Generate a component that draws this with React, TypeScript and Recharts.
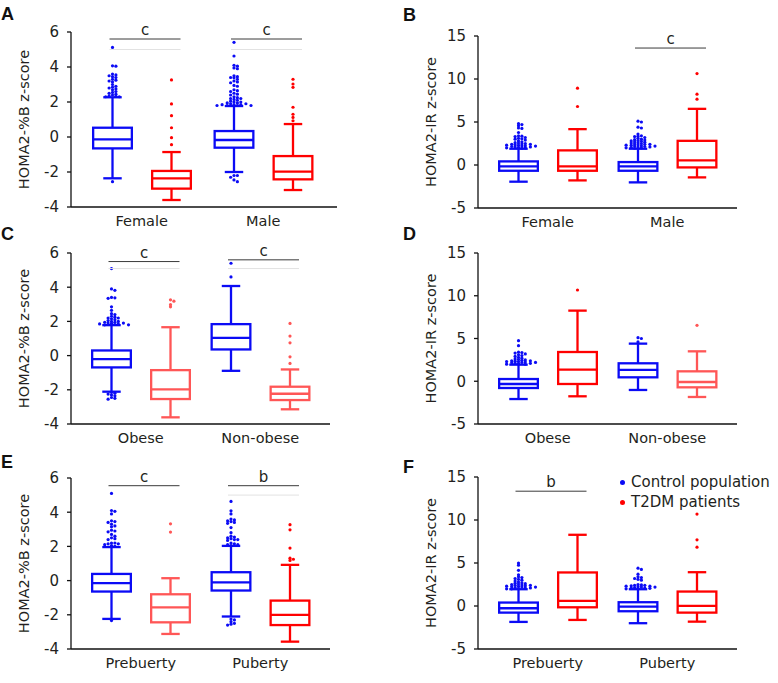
import React from 'react';
import { ComposedChart, Bar, XAxis, YAxis, Legend } from 'recharts';

const FONT = '"DejaVu Sans", Verdana, sans-serif';
const BLUE = '#0b0bf5';
const RED = '#ff0000';
const LIGHT_RED = '#ff5656';
const INK = '#231f20';

// categories
const sexGroups = ['Female', 'Male'];
const obesityGroups = ['Obese', 'Non-obese'];
const pubertyGroups = ['Prebuerty', 'Puberty'];

// box stats per group: [min, q1, median, q3, max]
// A - HOMA2-%B by sex
const aCtrl = [[-2.36, -0.65, -0.13, 0.53, 2.27], [-2.0, -0.61, -0.17, 0.34, 1.77]];
const aT2dm = [[-3.6, -2.95, -2.36, -1.94, -0.86], [-3.03, -2.42, -1.98, -1.09, 0.74]];
const aCtrlOut = [
  [5.12, 4.07, 4.05, 3.6, 3.55, 3.5, 3.45, 3.4, 3.3, 3.25, 3.2, 3.15, 3.0, 2.9, 2.85, 2.8, 2.75, 2.7, 2.6, 2.55, 2.5, 2.45, 2.4, 2.35, 2.32, 2.3, 2.3, -2.55],
  [5.41, 4.63, 4.1, 4.05, 3.95, 3.9, 3.5, 3.45, 3.4, 3.38, 3.3, 3.2, 3.15, 3.1, 2.95, 2.9, 2.7, 2.65, 2.6, 2.5, 2.45, 2.4, 2.3, 2.25, 2.2, 2.2, 2.15, 2.1, 2.05, 2.0, 2.0, 1.95, 1.95, 1.9, 1.9, 1.85, 1.85, 1.85, 1.8, 1.8, 1.8, 1.8, -2.2, -2.2, -2.3, -2.45, -2.55],
];
const aT2dmOut = [[3.26, 1.89, 1.22, 0.53, -0.04, -0.44], [3.3, 3.03, 2.84, 1.7, 1.3, 1.12, 0.93]];
const aSig = [{ label: 'c', y: 5.6, faint: 5.0 }, { label: 'c', y: 5.6, faint: 5.0 }];

// B - HOMA2-IR by sex
const bCtrl = [[-1.94, -0.67, -0.16, 0.42, 1.89], [-2.02, -0.67, -0.16, 0.34, 1.89]];
const bT2dm = [[-1.79, -0.67, -0.16, 1.7, 4.17], [-1.44, -0.28, 0.53, 2.81, 6.53]];
const bCtrlOut = [
  [4.8, 4.7, 4.55, 4.3, 4.25, 3.78, 3.4, 3.35, 3.3, 3.2, 3.1, 3.05, 3.0, 2.9, 2.8, 2.7, 2.6, 2.55, 2.5, 2.45, 2.4, 2.4, 2.35, 2.3, 2.3, 2.25, 2.2, 2.2, 2.15, 2.1, 2.1, 2.05, 2.0, 2.0, 1.95],
  [5.1, 5.0, 4.4, 4.3, 3.6, 3.4, 3.35, 3.3, 3.2, 3.1, 3.0, 2.95, 2.9, 2.85, 2.8, 2.75, 2.7, 2.65, 2.6, 2.55, 2.5, 2.45, 2.4, 2.4, 2.35, 2.3, 2.3, 2.25, 2.2, 2.2, 2.15, 2.1, 2.1, 2.05, 2.0, 2.0, 1.95],
];
const bT2dmOut = [[8.93, 6.8], [10.63, 8.23, 7.65]];
const bSig = [null, { label: 'c', y: 13.6 }];

// C - HOMA2-%B by obesity
const cCtrl = [[-2.11, -0.69, -0.21, 0.3, 1.78], [-0.89, 0.36, 1.04, 1.84, 4.07]];
const cT2dm = [[-3.61, -2.54, -1.98, -0.85, 1.66], [-3.14, -2.6, -2.23, -1.82, -0.81]];
const cCtrlOut = [
  [5.09, 3.9, 3.82, 3.4, 3.38, 3.35, 2.85, 2.65, 2.45, 2.4, 2.3, 2.25, 2.2, 2.2, 2.15, 2.1, 2.05, 2.0, 2.0, 1.95, 1.95, 1.9, 1.9, 1.88, 1.85, 1.85, 1.82, 1.8, 1.8, -2.15, -2.2, -2.25, -2.3, -2.35, -2.45, -2.5, -2.55],
  [5.4, 4.6],
];
const cT2dmOut = [[3.26, 3.18, 2.98, 2.85], [1.88, 1.14, 0.75, -0.07, -0.46]];
const cSig = [{ label: 'c', y: 5.5, faint: 5.09 }, { label: 'c', y: 5.6, faint: 5.09 }];

// D - HOMA2-IR by obesity
const dCtrl = [[-2.08, -0.79, -0.32, 0.26, 1.94], [-1.02, 0.46, 1.32, 2.1, 4.4]];
const dT2dm = [[-1.76, -0.32, 1.36, 3.42, 8.26], [-1.84, -0.71, -0.09, 1.16, 3.5]];
const dCtrlOut = [
  [4.75, 4.16, 3.4, 3.35, 3.3, 3.2, 3.1, 3.0, 2.9, 2.8, 2.7, 2.6, 2.55, 2.5, 2.45, 2.4, 2.4, 2.35, 2.3, 2.3, 2.25, 2.2, 2.2, 2.15, 2.1, 2.1, 2.05, 2.0, 2.0],
  [5.1, 5.0, 4.6],
];
const dT2dmOut = [[10.67], [6.54]];
const dSig = [null, null];

// E - HOMA2-%B by puberty
const eCtrl = [[-2.24, -0.64, -0.15, 0.39, 1.96], [-2.1, -0.58, -0.1, 0.49, 2.03]];
const eT2dm = [[-3.12, -2.44, -1.56, -0.8, 0.14], [-3.57, -2.6, -2.0, -1.17, 0.92]];
const eCtrlOut = [
  [5.1, 4.1, 4.05, 3.9, 3.5, 3.45, 3.4, 3.3, 3.2, 3.15, 2.95, 2.9, 2.85, 2.7, 2.6, 2.5, 2.45, 2.4, 2.2, 2.2, 2.15, 2.15, 2.1, 2.05, 2.0, -2.34],
  [4.63, 4.08, 3.9, 3.6, 3.55, 3.5, 3.45, 3.4, 3.35, 3.1, 2.8, 2.6, 2.55, 2.5, 2.45, 2.4, 2.4, 2.35, 2.2, 2.15, 2.1, 2.1, 2.05, -2.25, -2.3, -2.4, -2.5, -2.55, -2.6],
];
const eT2dmOut = [[3.32, 2.84], [3.27, 2.97, 1.9, 1.31, 1.25, 1.18]];
const eSig = [{ label: 'c', y: 5.55 }, { label: 'b', y: 5.55, faint: 5.0 }];

// F - HOMA2-IR by puberty
const fCtrl = [[-1.85, -0.77, -0.26, 0.4, 1.95], [-2.0, -0.61, -0.07, 0.44, 1.95]];
const fT2dm = [[-1.62, -0.15, 0.59, 3.9, 8.28], [-1.82, -0.77, 0.01, 1.68, 3.93]];
const fCtrlOut = [
  [5.0, 4.75, 4.15, 3.62, 3.4, 3.3, 3.2, 3.1, 3.0, 2.9, 2.8, 2.7, 2.65, 2.6, 2.55, 2.5, 2.45, 2.4, 2.4, 2.35, 2.3, 2.3, 2.25, 2.2, 2.2, 2.15, 2.1, 2.1, 2.05, 2.0, 2.0],
  [4.4, 4.25, 3.7, 3.4, 3.3, 3.2, 3.1, 3.0, 2.5, 2.45, 2.4, 2.4, 2.35, 2.3, 2.3, 2.25, 2.2, 2.2, 2.15, 2.1, 2.1, 2.05, 2.0, 2.0],
];
const fT2dmOut = [[], [10.69, 7.7, 6.84]];
const fSig = [{ label: 'b', y: 13.35 }, null];

const pctTicks = [-4, -2, 0, 2, 4, 6];
const irTicks = [-5, 0, 5, 10, 15];

const seriesNames = ['Control population', 'T2DM patients'];

const BAR = 41;
const GAP = 18;

const panels = [
  { id: 'A', left: 0, top: 0, w: 390, h: 240, plotTop: 32, plotBottom: 207, axisX: 71, axisRight: 337, padR: 13, letterX: 1, letterY: 5,
    groups: sexGroups, ctrl: aCtrl, t2dm: aT2dm, ctrlOut: aCtrlOut, t2dmOut: aT2dmOut, sig: aSig, ticks: pctTicks, title: 'HOMA2-%B z-score', light: [] },
  { id: 'B', left: 390, top: 0, w: 388, h: 240, plotTop: 36, plotBottom: 208, axisX: 88, axisRight: 347, padR: 10, letterX: 13, letterY: 6,
    groups: sexGroups, ctrl: bCtrl, t2dm: bT2dm, ctrlOut: bCtrlOut, t2dmOut: bT2dmOut, sig: bSig, ticks: irTicks, title: 'HOMA2-IR z-score', light: [] },
  { id: 'C', left: 0, top: 225, w: 390, h: 240, plotTop: 28, plotBottom: 199, axisX: 71, axisRight: 330, padR: 10, letterX: 1, letterY: 0,
    groups: obesityGroups, ctrl: cCtrl, t2dm: cT2dm, ctrlOut: cCtrlOut, t2dmOut: cT2dmOut, sig: cSig, ticks: pctTicks, title: 'HOMA2-%B z-score', light: [0, 1] },
  { id: 'D', left: 390, top: 225, w: 388, h: 240, plotTop: 28, plotBottom: 199, axisX: 88, axisRight: 347, padR: 10, letterX: 13, letterY: 0,
    groups: obesityGroups, ctrl: dCtrl, t2dm: dT2dm, ctrlOut: dCtrlOut, t2dmOut: dT2dmOut, sig: dSig, ticks: irTicks, title: 'HOMA2-IR z-score', light: [1] },
  { id: 'E', left: 0, top: 450, w: 390, h: 233, plotTop: 28, plotBottom: 199, axisX: 71, axisRight: 330, padR: 10, letterX: 1, letterY: 3,
    groups: pubertyGroups, ctrl: eCtrl, t2dm: eT2dm, ctrlOut: eCtrlOut, t2dmOut: eT2dmOut, sig: eSig, ticks: pctTicks, title: 'HOMA2-%B z-score', light: [0] },
  { id: 'F', left: 390, top: 450, w: 388, h: 233, plotTop: 27, plotBottom: 199, axisX: 88, axisRight: 347, padR: 10, letterX: 13, letterY: 8,
    groups: pubertyGroups, ctrl: fCtrl, t2dm: fT2dm, ctrlOut: fCtrlOut, t2dmOut: fT2dmOut, sig: fSig, ticks: irTicks, title: 'HOMA2-IR z-score', light: [], legend: true },
];

const extent = (s: any) => [Math.min(s.stats[0], ...s.out), Math.max(s.stats[4], ...s.out)];

// simple beeswarm: push each dot sideways until it clears its neighbours
function swarm(pys: number[]) {
  const placed: { dx: number; py: number }[] = [];
  const gapX = 3.4;
  const gapY = 1.8;
  const step = 1.7;
  return pys.map((py) => {
    for (let k = 0; k < 200; k++) {
      const dx = k === 0 ? 0 : (k % 2 ? 1 : -1) * Math.ceil(k / 2) * step;
      const hit = placed.some((q) => Math.abs(q.dx - dx) < gapX && Math.abs(q.py - py) < gapY);
      if (!hit) {
        placed.push({ dx, py });
        return dx;
      }
    }
    return 0;
  });
}

function BoxShape(props: any) {
  const { x, y, width, height, payload, series, color } = props;
  const s = payload[series];
  const [lo, hi] = extent(s);
  const top = Math.min(y, y + height);
  const h = Math.abs(height);
  const pix = (v: number) => top + ((hi - v) / (hi - lo)) * h;
  const cx = x + width / 2;
  const sw = 2.3;
  const cap = width * 0.45;
  const [mn, q1, md, q3, mx] = s.stats;

  const r = 1.6;
  const sorted = [...s.out].sort((a: number, b: number) => b - a);
  const pys = sorted.map((v: number) => pix(v));
  const dxs = swarm(pys);

  const sig = series === 't2dm' ? payload.sig : null;
  const ctrlCx = cx - (BAR + GAP);

  return (
    <g>
      <line x1={cx} x2={cx} y1={pix(mx)} y2={pix(q3)} stroke={color} strokeWidth={sw} />
      <line x1={cx} x2={cx} y1={pix(q1)} y2={pix(mn)} stroke={color} strokeWidth={sw} />
      <line x1={cx - cap / 2} x2={cx + cap / 2} y1={pix(mx)} y2={pix(mx)} stroke={color} strokeWidth={sw} />
      <line x1={cx - cap / 2} x2={cx + cap / 2} y1={pix(mn)} y2={pix(mn)} stroke={color} strokeWidth={sw} />
      <rect x={x + sw / 2} y={pix(q3)} width={width - sw} height={pix(q1) - pix(q3)} fill="none" stroke={color} strokeWidth={sw} />
      <line x1={x + sw / 2} x2={x + width - sw / 2} y1={pix(md)} y2={pix(md)} stroke={color} strokeWidth={sw} />
      {pys.map((py: number, i: number) => (
        <circle key={i} cx={cx + dxs[i]} cy={py} r={r} fill={color} />
      ))}
      {sig && (
        <g>
          {sig.faint != null && (
            <line x1={ctrlCx - 3} x2={cx + 9} y1={pix(sig.faint)} y2={pix(sig.faint)} stroke="#e2e2e2" strokeWidth={1} />
          )}
          <line x1={ctrlCx - 3} x2={cx + 9} y1={pix(sig.y)} y2={pix(sig.y)} stroke="#3a3a3a" strokeWidth={1} />
          <text x={(ctrlCx - 3 + cx + 9) / 2} y={pix(sig.y) - 4} textAnchor="middle" fontFamily={FONT} fontSize={15} fill={INK}>
            {sig.label}
          </text>
        </g>
      )}
    </g>
  );
}

const renderLegend = ({ payload }: any) => (
  <div style={{ fontFamily: FONT, fontSize: 15, color: INK, lineHeight: '20px' }}>
    {(payload || []).map((p: any) => (
      <div key={p.value} style={{ display: 'flex', alignItems: 'center', whiteSpace: 'nowrap' }}>
        <span style={{ width: 5, height: 5, borderRadius: '50%', background: p.color, marginRight: 6, display: 'inline-block' }} />
        {p.value}
      </div>
    ))}
  </div>
);

function Panel({ p }: { p: any }) {
  const rows = p.groups.map((g: string, i: number) => ({
    group: g,
    ctrl: { stats: p.ctrl[i], out: p.ctrlOut[i] },
    t2dm: { stats: p.t2dm[i], out: p.t2dmOut[i] },
    sig: p.sig[i],
  }));
  const domain = [p.ticks[0], p.ticks[p.ticks.length - 1]];
  const t2dmColor = (payload: any) => (p.light.includes(p.groups.indexOf(payload.group)) ? LIGHT_RED : RED);

  return (
    <div style={{ position: 'absolute', left: p.left, top: p.top }}>
      <ComposedChart
        width={p.w}
        height={p.h}
        data={rows}
        barSize={BAR}
        barGap={GAP}
        margin={{ top: p.plotTop, right: p.w - p.axisRight, bottom: 0, left: 0 }}
      >
        <XAxis
          dataKey="group"
          height={p.h - p.plotBottom}
          interval={0}
          tickSize={0}
          tickMargin={9}
          tickLine={false}
          axisLine={{ stroke: '#111', strokeWidth: 1.3 }}
          padding={{ left: 10, right: p.padR }}
          tick={{ fill: INK, fontSize: 14.5, fontFamily: FONT }}
        />
        <YAxis
          type="number"
          width={p.axisX}
          domain={domain}
          ticks={p.ticks}
          interval={0}
          tickSize={4}
          tickMargin={8}
          axisLine={{ stroke: '#111', strokeWidth: 1.3 }}
          tickLine={{ stroke: '#111', strokeWidth: 1.3 }}
          tick={{ fill: INK, fontSize: 15, fontFamily: FONT }}
          label={(lp: any) => {
            const vb = lp.viewBox || {};
            const lx = vb.x + vb.width - 47;
            const ly = vb.y + vb.height / 2;
            return (
              <text x={lx} y={ly} transform={`rotate(-90 ${lx} ${ly})`} textAnchor="middle" dominantBaseline="central" fontFamily={FONT} fontSize={14.5} fill={INK}>
                {p.title}
              </text>
            );
          }}
        />
        <Bar
          name={seriesNames[0]}
          dataKey={(d: any) => extent(d.ctrl)}
          fill={BLUE}
          isAnimationActive={false}
          shape={(sp: any) => <BoxShape {...sp} series="ctrl" color={BLUE} />}
        />
        <Bar
          name={seriesNames[1]}
          dataKey={(d: any) => extent(d.t2dm)}
          fill={RED}
          isAnimationActive={false}
          shape={(sp: any) => <BoxShape {...sp} series="t2dm" color={t2dmColor(sp.payload)} />}
        />
        {p.legend && (
          <Legend
            layout="horizontal"
            align="center"
            verticalAlign="middle"
            content={renderLegend}
            wrapperStyle={{ left: 230, top: 22, width: 'auto', height: 'auto' }}
          />
        )}
      </ComposedChart>
      <div
        style={{
          position: 'absolute',
          left: p.letterX,
          top: p.letterY,
          fontFamily: '"Liberation Sans", Arial, sans-serif',
          fontWeight: 'bold',
          fontSize: 18,
          lineHeight: '18px',
          color: '#111',
        }}
      >
        {p.id}
      </div>
    </div>
  );
}

export default function App() {
  return (
    <div style={{ position: 'absolute', left: 0, top: 0, width: 778, height: 683, background: '#fff', overflow: 'hidden' }}>
      {panels.map((p) => (
        <Panel key={p.id} p={p} />
      ))}
    </div>
  );
}
